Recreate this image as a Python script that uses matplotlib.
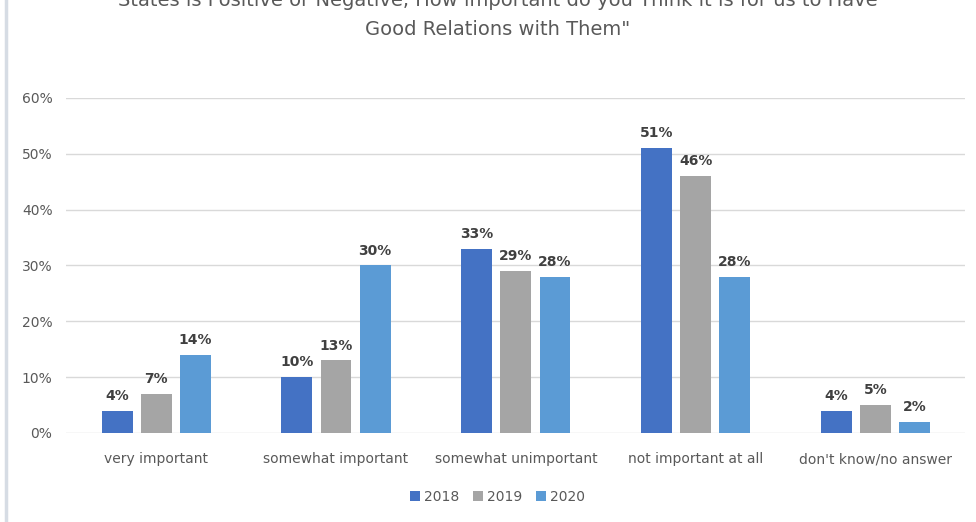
import numpy as np
import matplotlib.pyplot as plt
from matplotlib.lines import Line2D

categories = ['very important', 'somewhat important', 'somewhat unimportant',
              'not important at all', "don't know/no answer"]
years = ['2018', '2019', '2020']
v2018 = [4, 10, 33, 51, 4]
v2019 = [7, 13, 29, 46, 5]
v2020 = [14, 30, 28, 28, 2]
colors = ['#4472C4', '#A5A5A5', '#5B9BD5']

fig = plt.figure(figsize=(9.76, 5.22), dpi=100)
ax = fig.add_axes([0.068, 0.1705, 0.921, 0.6418])

x = np.arange(len(categories))
w = 0.172
off = 0.218
for i, (vals, c) in enumerate(zip([v2018, v2019, v2020], colors)):
    bars = ax.bar(x + (i - 1) * off, vals, w, color=c, label=years[i], zorder=3)
    for b, v in zip(bars, vals):
        ax.text(b.get_x() + b.get_width() / 2, v + 1.4, f'{v}%', ha='center', va='bottom',
                fontsize=10, fontweight='bold', color='#404040')

ax.set_ylim(0, 60)
ax.set_xlim(-0.5, 4.5)
ax.set_yticks(range(0, 61, 10))
ax.set_yticklabels([f'{t}%' for t in range(0, 61, 10)])
ax.set_xticks(x)
ax.set_xticklabels(categories)
ax.grid(axis='y', color='#D9D9D9', linewidth=1, zorder=0)
for s in ax.spines.values():
    s.set_visible(False)
ax.tick_params(length=0, colors='#595959', labelsize=10)
ax.tick_params(axis='y', pad=10)
ax.tick_params(axis='x', pad=14)

fig.text(0.51, 1.0, 'States is Positive or Negative, How important do you Think it is for us to Have',
         ha='center', va='center', fontsize=14, color='#595959')
fig.text(0.51, 0.943, 'Good Relations with Them"', ha='center', va='center',
         fontsize=14, color='#595959')

fig.legend(loc='center', bbox_to_anchor=(0.51, 0.048), ncol=3, frameon=False,
           fontsize=10, handlelength=0.7, handleheight=0.7, handletextpad=0.3,
           columnspacing=1.0, labelcolor='#595959')

fig.add_artist(Line2D([0.006, 0.006], [0, 1], color='#D6DCE4', linewidth=2.5))

fig.savefig('out.png', dpi=100)
